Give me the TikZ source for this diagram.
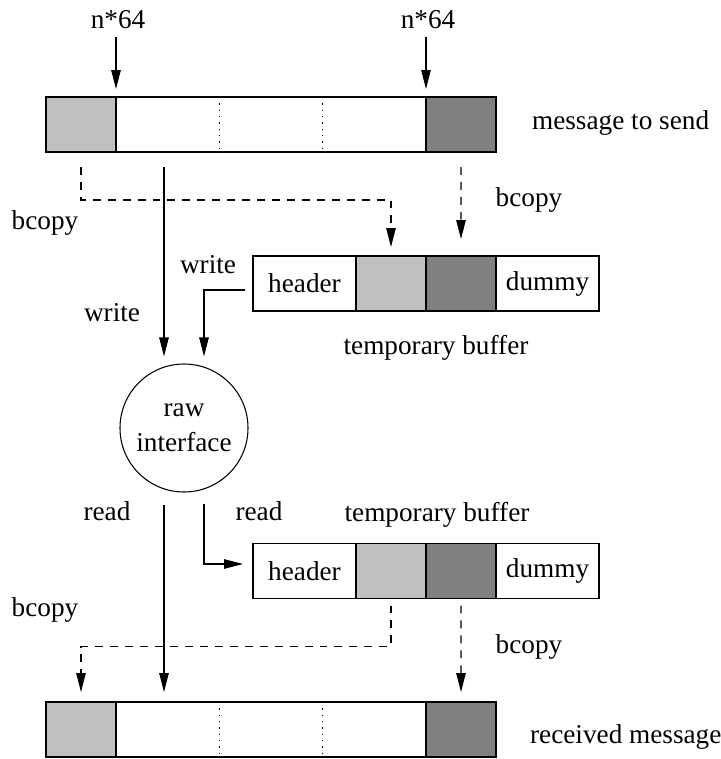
\documentclass[tikz,border=0pt]{standalone}
\usepackage{fontspec}
\setmainfont{Liberation Serif}
\usetikzlibrary{arrows.meta, positioning, calc}
\definecolor{lightcell}{RGB}{192,192,192}
\definecolor{darkcell}{RGB}{128,128,128}

\begin{document}
\begin{tikzpicture}[
  font=\fontsize{15.5}{20}\selectfont,
  cell/.style={rectangle, draw, line width=0.6pt, inner sep=0pt,
              outer sep=0pt, minimum height=1.1cm},
  wcell/.style={cell, fill=white},
  lcell/.style={cell, fill=lightcell, minimum width=1.4cm},
  dcell/.style={cell, fill=darkcell, minimum width=1.4cm},
  iface/.style={circle, draw, line width=0.6pt, minimum size=2.56cm,
              inner sep=0pt, align=center},
  arr/.style={-{Triangle[length=0.38cm, width=0.19cm]}, line width=0.6pt},
  darr/.style={arr, dash pattern=on 4.5pt off 4pt},
  sep/.style={line width=0.5pt, dash pattern=on 0.8pt off 2.8pt},
  lbl/.style={inner sep=1pt}
]
\useasboundingbox (0,0) rectangle (14.4,-15.18);

% ── Message to send (top row) ──
\node[lcell] (sl) at (1.62,-2.49) {};
\node[wcell, minimum width=6.2cm, right=0pt of sl] (sm) {};
\node[dcell, right=0pt of sm] (sd) {};
\node[lbl, anchor=west] (msg) at (10.6,-2.46) {message to send};

% ── Temporary buffer, send side ──
\node[wcell, minimum width=2.06cm] (th) at (6.09,-5.67) {header};
\node[lcell, right=0pt of th] (tl) {};
\node[dcell, right=0pt of tl] (td) {};
\node[wcell, minimum width=2.06cm, right=0pt of td] (tdm) {dummy};
\node[lbl] (tbuf) at (8.72,-6.96) {temporary buffer};

% ── Raw interface ──
\node[iface] (raw) at (3.68,-8.56) {raw\\interface};

% ── Temporary buffer, receive side ──
\node[lbl] (rbuf) at (8.74,-10.30) {temporary buffer};
\node[wcell, minimum width=2.06cm] (bh) at (6.09,-11.42) {header};
\node[lcell, right=0pt of bh] (bl) {};
\node[dcell, right=0pt of bl] (bd) {};
\node[wcell, minimum width=2.06cm, right=0pt of bd] (bdm) {dummy};

% ── Received message (bottom row) ──
\node[lcell] (rl) at (1.62,-14.59) {};
\node[wcell, minimum width=6.2cm, right=0pt of rl] (rm) {};
\node[dcell, right=0pt of rm] (rd) {};
\node[lbl, anchor=west] (rcv) at (10.56,-14.74) {received message};

% dotted separators inside both long rows
\foreach \row in {sm,rm}
  \foreach \f in {1,2}
    \draw[sep] ($(\row.north west)!{\f/3}!(\row.north east)$)
            -- ($(\row.south west)!{\f/3}!(\row.south east)$);

% ── n*64 markers ──
\node[lbl] (n1) at (2.36,-0.40) {n*64};
\node[lbl] (n2) at (8.56,-0.40) {n*64};
\draw[arr, shorten <=0.12cm, shorten >=0.16cm] (sl.north east |- n1.south) -- (sl.north east);
\draw[arr, shorten <=0.12cm, shorten >=0.16cm] (sd.north west |- n2.south) -- (sd.north west);

% ── bcopy into the send buffer ──
\draw[darr, shorten <=0.3cm, shorten >=0.18cm] (sl.south) -- ++(0,-0.96) -| (tl.north);
\draw[darr, shorten <=0.3cm, shorten >=0.34cm] (sd.south) -- (td.north);
\node[lbl] (bc1) at (0.90,-4.46) {bcopy};
\node[lbl] (bc2) at (10.58,-4.00) {bcopy};

% ── write ──
\draw[arr, shorten <=0.3cm, shorten >=0.14cm]
  ([xshift=-0.4cm]raw.north |- sm.south) -- ([xshift=-0.4cm]raw.north);
\draw[arr, shorten <=0.16cm, shorten >=0.14cm]
  ([yshift=-0.13cm]th.west) -| ([xshift=0.4cm]raw.north);
\node[lbl] (wr1) at (4.16,-5.30) {write};
\node[lbl] (wr2) at (2.24,-6.26) {write};

% ── read ──
\draw[arr, shorten <=0.24cm, shorten >=0.2cm]
  ([xshift=-0.4cm]raw.south) -- ([xshift=-0.4cm]raw.south |- rm.north);
\draw[arr, shorten <=0.22cm, shorten >=0.2cm]
  ([xshift=0.4cm]raw.south) |- ([yshift=0.14cm]bh.west);
\node[lbl] (rd1) at (2.14,-10.22) {read};
\node[lbl] (rd2) at (5.18,-10.22) {read};

% ── bcopy out of the receive buffer ──
\draw[darr, shorten <=0.14cm, shorten >=0.2cm] (bl.south) -- ++(0,-0.96) -| (rl.north);
\draw[darr, shorten <=0.14cm, shorten >=0.2cm] (bd.south) -- (rd.north);
\node[lbl] (bc3) at (0.90,-12.20) {bcopy};
\node[lbl] (bc4) at (10.58,-12.94) {bcopy};

\end{tikzpicture}
\end{document}
